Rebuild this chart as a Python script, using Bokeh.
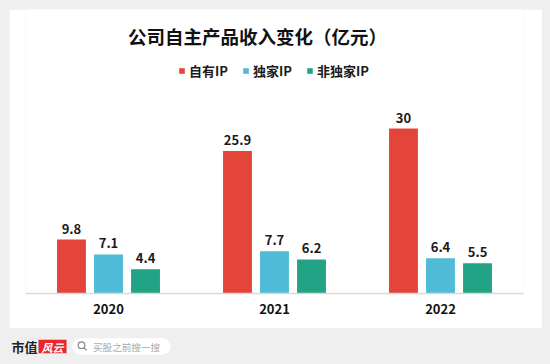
from bokeh.plotting import figure
from bokeh.models import ColumnDataSource, FactorRange, Range1d, Label, Legend, LegendItem, Spacer
from bokeh.transform import dodge
from bokeh.layouts import column, row
from bokeh.embed import file_html
from bokeh.resources import INLINE
from bokeh.core.properties import value

# ---- data ----
years = ["2020", "2021", "2022"]
series_names = ["自有IP", "独家IP", "非独家IP"]
own_ip = [9.8, 25.9, 30]
exclusive_ip = [7.1, 7.7, 6.4]
non_exclusive_ip = [4.4, 6.2, 5.5]
title_text = "公司自主产品收入变化（亿元）"

colors = ["#e4453a", "#50bbd7", "#22a385"]
FONT = "Noto Sans CJK SC"
GREY_BG = "#efefef"

src = ColumnDataSource(dict(
    year=years,
    own=own_ip, exc=exclusive_ip, non=non_exclusive_ip,
    own_t=[f"{v:g}" for v in own_ip],
    exc_t=[f"{v:g}" for v in exclusive_ip],
    non_t=[f"{v:g}" for v in non_exclusive_ip],
))

px_per_unit = 5.5
FRAME_BOTTOM = 284
p = figure(width=533, height=319, x_range=FactorRange(factors=years),
           y_range=Range1d(0, FRAME_BOTTOM / px_per_unit),
           output_backend="svg", toolbar_location=None,
           min_border_left=16, min_border_right=19, min_border_top=0, min_border_bottom=35,
           background_fill_color="white", border_fill_color="white",
           outline_line_color=None)

offset = 0.223
bw = 0.174
renderers = []
for col, off, c in zip(["own", "exc", "non"], [-offset, 0, offset], colors):
    r = p.vbar(x=dodge("year", off, range=p.x_range), top=col, width=bw, source=src,
               fill_color=c, line_color=None)
    renderers.append(r)
    p.text(x=dodge("year", off, range=p.x_range), y=col, text=col + "_t", source=src,
           text_align="center", text_baseline="bottom", y_offset=-6,
           text_font=value(FONT), text_font_style="bold", text_font_size="13px",
           text_color="#1a1a1a")

legend = Legend(items=[LegendItem(label=n, renderers=[r]) for n, r in zip(series_names, renderers)],
                orientation="horizontal", location=(153, 213),
                background_fill_alpha=0, border_line_color=None,
                padding=0, margin=0, spacing=14, label_standoff=4,
                glyph_width=7, glyph_height=7,
                label_text_font=FONT, label_text_font_style="bold",
                label_text_font_size="13px", label_text_color="#1a1a1a")
p.add_layout(legend)

p.add_layout(Label(x=232 / 166, y=(FRAME_BOTTOM - 26) / px_per_unit, text=title_text,
                   text_align="center", text_baseline="middle",
                   text_font=FONT, text_font_style="bold", text_font_size="18.5px",
                   text_color="#111111"))

p.yaxis.visible = False
p.xgrid.visible = False
p.ygrid.visible = False
ax = p.xaxis[0]
ax.axis_line_color = "#d9d9d9"
ax.axis_line_width = 1.5
ax.major_tick_line_color = None
ax.minor_tick_line_color = None
ax.major_tick_out = 0
ax.major_tick_in = 0
ax.major_label_standoff = 10
ax.major_label_text_font = FONT
ax.major_label_text_font_style = "bold"
ax.major_label_text_font_size = "13px"
ax.major_label_text_color = "#111111"

# ---- footer ----
f = figure(width=550, height=36, x_range=Range1d(0, 550), y_range=Range1d(0, 36),
           output_backend="svg", toolbar_location=None, min_border=0,
           background_fill_color=GREY_BG, border_fill_color=GREY_BG,
           outline_line_color=None)
f.axis.visible = False
f.grid.visible = False
f.text(x=[11], y=[18.5], text=["市值"], text_baseline="middle",
       text_font=value(FONT), text_font_style="bold", text_font_size="13px", text_color="#222222")
f.rect(x=[52], y=[18], width=28, height=13.5, fill_color="#e8262b", line_color=None)
f.text(x=[52], y=[18], text=["风云"], text_align="center", text_baseline="middle",
       text_font=value(FONT), text_font_style="bold italic", text_font_size="11px", text_color="white")
f.rect(x=[121], y=[18], width=82, height=16.6, fill_color="white", line_color=None)
f.circle(x=[80, 162], y=[18, 18], radius=8.3, fill_color="white", line_color=None)
f.circle(x=[81], y=[19.3], radius=3.3, fill_color=None, line_color="#888888", line_width=1.2)
f.segment(x0=[83.4], y0=[16.9], x1=[86], y1=[14.3], line_color="#888888", line_width=1.3)
f.text(x=[92.5], y=[18], text=["买股之前搜一搜"], text_baseline="middle",
       text_font=value(FONT), text_font_size="9.6px", text_color="#aaaaaa")

top_spacer = Spacer(width=550, height=9)
layout = column(top_spacer, row(Spacer(width=9, height=319), p, spacing=0), f, spacing=0)
html = file_html(layout, INLINE)
html = html.replace("</head>", "<style>html, body { background-color: #efefef !important; }</style></head>", 1)
open("out.html", "w").write(html)
